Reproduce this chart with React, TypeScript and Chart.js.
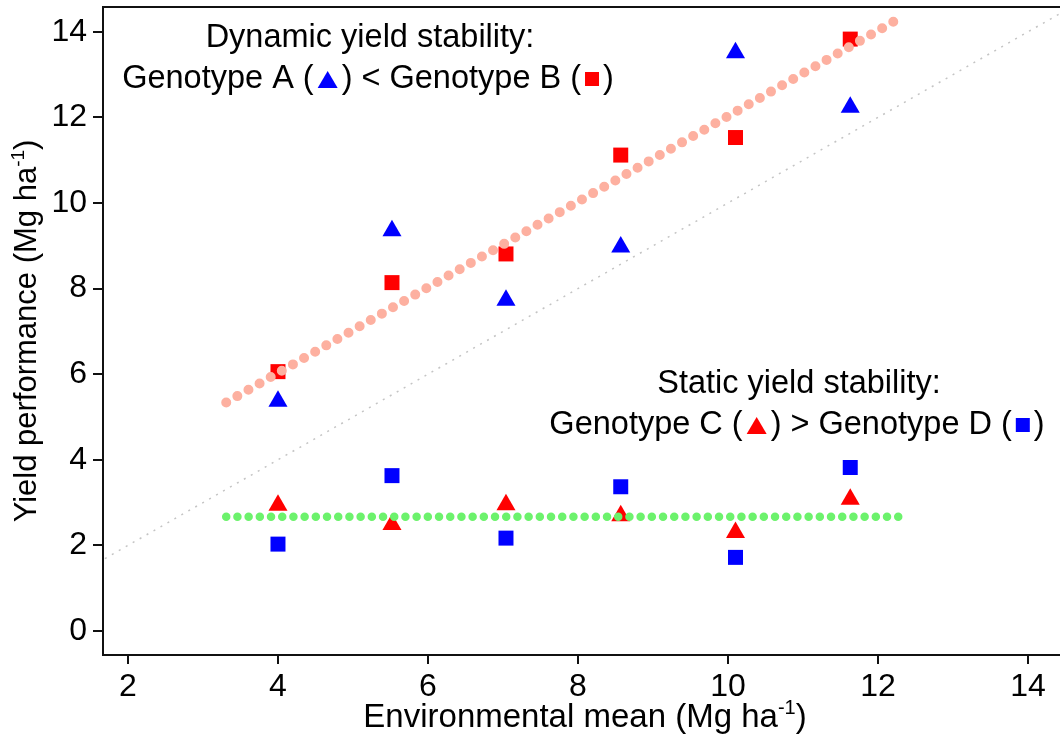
import React, { useEffect, useRef } from "react";
import { Chart, registerables } from "chart.js";
Chart.register(...registerables);

// ---- data ----
const envMeans = [4.0, 5.52, 7.04, 8.57, 10.1, 11.63];
const genotypeA = [5.37, 9.35, 7.73, 8.97, 13.51, 12.24];
const genotypeB = [6.06, 8.14, 8.81, 11.12, 11.53, 13.83];
const genotypeC = [2.94, 2.49, 2.95, 2.69, 2.3, 3.08];
const genotypeD = [2.03, 3.63, 2.17, 3.37, 1.72, 3.82];
const dynamicFitX = [3.31, 12.33];
const dynamicFitY = [5.34, 14.36];
const staticFitX = [3.31, 12.33];
const staticFitY = [2.67, 2.67];
const oneToOne = [1.6, 14.6];
const xTicks = [2, 4, 6, 8, 10, 12, 14];
const yTicks = [0, 2, 4, 6, 8, 10, 12, 14];

const xTitle = "Environmental mean (Mg ha";
const yTitle = "Yield performance (Mg ha";
const unitSup = "-1";
const dynTitle = "Dynamic yield stability:";
const dynA = "Genotype A (";
const dynB = ") < Genotype B (";
const staTitle = "Static yield stability:";
const staC = "Genotype C (";
const staD = ") > Genotype D (";
const closeParen = ")";

const FONT = "'Liberation Sans', Arial, Helvetica, sans-serif";
const RED = "#ff0000";
const BLUE = "#0000ff";

type Seg =
  | { kind: "text"; text: string }
  | { kind: "sup"; text: string }
  | { kind: "gap"; w: number }
  | { kind: "tri"; color: string }
  | { kind: "sq"; color: string };

function drawRich(ctx: CanvasRenderingContext2D, segs: Seg[], cx: number, baseline: number, size: number) {
  const supSize = Math.round(size * 0.62);
  const widthOf = (s: Seg) => {
    if (s.kind === "text") {
      ctx.font = `${size}px ${FONT}`;
      return ctx.measureText(s.text).width;
    }
    if (s.kind === "sup") {
      ctx.font = `${supSize}px ${FONT}`;
      return ctx.measureText(s.text).width;
    }
    if (s.kind === "gap") return s.w;
    if (s.kind === "tri") return 20;
    return 14;
  };
  const widths = segs.map(widthOf);
  const total = widths.reduce((a, b) => a + b, 0);
  let x = cx - total / 2;
  ctx.textAlign = "left";
  ctx.textBaseline = "alphabetic";
  segs.forEach((s, i) => {
    if (s.kind === "text") {
      ctx.font = `${size}px ${FONT}`;
      ctx.fillStyle = "#000";
      ctx.fillText(s.text, x, baseline);
    } else if (s.kind === "sup") {
      ctx.font = `${supSize}px ${FONT}`;
      ctx.fillStyle = "#000";
      ctx.fillText(s.text, x, baseline - size * 0.4);
    } else if (s.kind === "tri") {
      ctx.fillStyle = s.color;
      ctx.beginPath();
      ctx.moveTo(x, baseline);
      ctx.lineTo(x + 20, baseline);
      ctx.lineTo(x + 10, baseline - 17);
      ctx.closePath();
      ctx.fill();
    } else if (s.kind === "sq") {
      ctx.fillStyle = s.color;
      ctx.fillRect(x, baseline - 16, 14, 14);
    }
    x += widths[i];
  });
}

const textPlugin = {
  id: "texts",
  afterDraw(chart: any) {
    const ctx: CanvasRenderingContext2D = chart.ctx;
    const ca = chart.chartArea;
    ctx.save();
    // top frame line
    ctx.strokeStyle = "#111";
    ctx.lineWidth = 2;
    ctx.beginPath();
    ctx.moveTo(ca.left, ca.top);
    ctx.lineTo(ca.right, ca.top);
    ctx.stroke();

    const size = 32.5;
    drawRich(ctx, [{ kind: "text", text: dynTitle }], 370, 47, size);
    drawRich(
      ctx,
      [
        { kind: "text", text: dynA },
        { kind: "gap", w: 4 },
        { kind: "tri", color: BLUE },
        { kind: "gap", w: 4 },
        { kind: "text", text: dynB },
        { kind: "gap", w: 4 },
        { kind: "sq", color: RED },
        { kind: "gap", w: 4 },
        { kind: "text", text: closeParen },
      ],
      368,
      88,
      size
    );
    drawRich(ctx, [{ kind: "text", text: staTitle }], 799, 393, size);
    drawRich(
      ctx,
      [
        { kind: "text", text: staC },
        { kind: "gap", w: 4 },
        { kind: "tri", color: RED },
        { kind: "gap", w: 4 },
        { kind: "text", text: staD },
        { kind: "gap", w: 4 },
        { kind: "sq", color: BLUE },
        { kind: "gap", w: 4 },
        { kind: "text", text: closeParen },
      ],
      797,
      434,
      size
    );

    // axis titles
    const titleSegs: (t: string) => Seg[] = (t) => [
      { kind: "text", text: t },
      { kind: "sup", text: unitSup },
      { kind: "text", text: closeParen },
    ];
    drawRich(ctx, titleSegs(xTitle), 585, 727, 33);
    ctx.translate(36, (ca.top + ca.bottom) / 2);
    ctx.rotate(-Math.PI / 2);
    drawRich(ctx, titleSegs(yTitle), 0, 0, 31);
    ctx.restore();
  },
};

const zeroPad = (s: any) => {
  s.paddingTop = 0;
  s.paddingBottom = 0;
  s.paddingLeft = 0;
  s.paddingRight = 0;
};

export default function App() {
  const ref = useRef<HTMLCanvasElement | null>(null);
  useEffect(() => {
    if (!ref.current) return;
    Chart.defaults.font.family = FONT;
    const pts = (ys: number[]) => envMeans.map((x, i) => ({ x, y: ys[i] }));
    const chart = new Chart(ref.current, {
      type: "scatter",
      data: {
        datasets: [
          {
            label: "static fit",
            data: staticFitX.map((x, i) => ({ x, y: staticFitY[i] })),
            showLine: true,
            borderColor: "#6cf26c",
            borderWidth: 8.5,
            borderDash: [0, 11.2],
            borderCapStyle: "round",
            pointRadius: 0,
          },
          {
            label: "dynamic fit",
            data: dynamicFitX.map((x, i) => ({ x, y: dynamicFitY[i] })),
            showLine: true,
            borderColor: "#fdb0a0",
            borderWidth: 10,
            borderDash: [0, 12.8],
            borderCapStyle: "round",
            pointRadius: 0,
          },
          {
            label: "Genotype A",
            data: pts(genotypeA),
            pointStyle: "triangle",
            pointRadius: 11,
            backgroundColor: BLUE,
            borderColor: BLUE,
            borderWidth: 0,
          },
          {
            label: "Genotype B",
            data: pts(genotypeB),
            pointStyle: "rect",
            pointRadius: 10.6,
            backgroundColor: RED,
            borderColor: RED,
            borderWidth: 0,
          },
          {
            label: "Genotype C",
            data: pts(genotypeC),
            pointStyle: "triangle",
            pointRadius: 11,
            backgroundColor: RED,
            borderColor: RED,
            borderWidth: 0,
          },
          {
            label: "Genotype D",
            data: pts(genotypeD),
            pointStyle: "rect",
            pointRadius: 10.6,
            backgroundColor: BLUE,
            borderColor: BLUE,
            borderWidth: 0,
          },
          {
            label: "1:1",
            data: oneToOne.map((v) => ({ x: v, y: v })),
            showLine: true,
            borderColor: "#c4c4c4",
            borderWidth: 1.5,
            borderDash: [2, 6],
            pointRadius: 0,
          },
        ],
      },
      options: {
        animation: false,
        responsive: true,
        maintainAspectRatio: false,
        devicePixelRatio: 1,
        layout: { autoPadding: false, padding: { left: 0, top: 7, right: 0, bottom: 0 } },
        plugins: { legend: { display: false }, tooltip: { enabled: false } },
        scales: {
          x: {
            type: "linear",
            min: 1.667,
            max: 14.52,
            afterBuildTicks: (s: any) => {
              s.ticks = xTicks.map((v) => ({ value: v }));
            },
            afterFit: (s: any) => {
              s.height = 81;
              zeroPad(s);
            },
            grid: {
              display: true,
              drawOnChartArea: false,
              drawTicks: true,
              tickLength: 9,
              tickWidth: 2,
              tickColor: "#111",
              color: "#111",
              lineWidth: 2,
            },
            border: { display: true, color: "#111", width: 2 },
            ticks: { font: { size: 32, family: FONT }, color: "#000", padding: 4, maxRotation: 0, autoSkip: false },
          },
          y: {
            type: "linear",
            min: -0.561,
            max: 14.58,
            afterBuildTicks: (s: any) => {
              s.ticks = yTicks.map((v) => ({ value: v }));
            },
            afterFit: (s: any) => {
              s.width = 103;
              zeroPad(s);
            },
            grid: {
              display: true,
              drawOnChartArea: false,
              drawTicks: true,
              tickLength: 10,
              tickWidth: 2,
              tickColor: "#111",
              color: "#111",
              lineWidth: 2,
            },
            border: { display: true, color: "#111", width: 2 },
            ticks: { font: { size: 32, family: FONT }, color: "#000", padding: 6, autoSkip: false },
          },
        },
      },
      plugins: [textPlugin],
    } as any);
    return () => chart.destroy();
  }, []);
  return (
    <div style={{ position: "fixed", left: 0, top: 0, width: 1060, height: 736, overflow: "hidden", background: "#fff" }}>
      <div style={{ position: "relative", width: 1067, height: 736 }}>
        <canvas ref={ref} />
      </div>
    </div>
  );
}
